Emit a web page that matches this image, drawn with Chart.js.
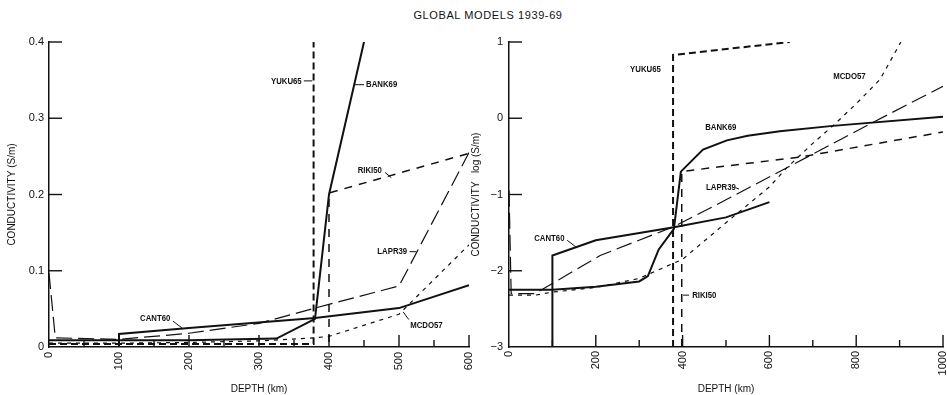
<!DOCTYPE html>
<html lang="en">
<head>
<meta charset="UTF-8">
<title>Global Models 1939-69</title>
<style>
    body {
        margin: 0;
        background: #fff;
        width: 947px;
        height: 395px;
        overflow: hidden;
        position: relative;
        font-family: "Liberation Sans", Arial, sans-serif;
    }
    #title {
        position: absolute;
        left: 388px;
        width: 200px;
        top: 9px;
        text-align: center;
        font-size: 11px;
        letter-spacing: 0.6px;
        color: #111;
    }
    canvas { position: absolute; top: 0; }
    #linChart { left: 0; }
    #logChart { left: 470px; }
</style>
<script src="https://cdn.jsdelivr.net/npm/chart.js"></script>
</head>
<body>
<div id="title">GLOBAL MODELS 1939-69</div>
<canvas id="linChart" width="482" height="395"></canvas>
<canvas id="logChart" width="477" height="395"></canvas>

<script>
// ---- left panel: conductivity (S/m) against depth (km) ----
const cant60LinD = [0, 100, 100, 200, 380, 500, 600];
const cant60LinC = [0, 0, 0.017, 0.025, 0.038, 0.051, 0.081];
const bank69LinD = [0, 200, 325, 380, 400, 450];
const bank69LinC = [0.009, 0.009, 0.011, 0.037, 0.2, 0.4];
const yuku65LinD = [0, 378, 378];
const yuku65LinC = [0.004, 0.004, 0.4];
const riki50LinD = [0, 400, 400, 600];
const riki50LinC = [0, 0, 0.202, 0.254];
const lapr39LinD = [0, 9, 100, 200, 300, 400, 500, 600];
const lapr39LinC = [0.097, 0.012, 0.01, 0.018, 0.031, 0.056, 0.08, 0.255];
const mcdo57LinD = [0, 100, 200, 300, 380, 400, 500, 600];
const mcdo57LinC = [0.005, 0.005, 0.006, 0.008, 0.012, 0.014, 0.043, 0.134];

// ---- right panel: log10 conductivity against depth (km) ----
const cant60LogD = [0, 100, 100, 200, 380, 500, 600];
const cant60LogV = [-3, -3, -1.8, -1.6, -1.43, -1.3, -1.1];
const bank69LogD = [0, 100, 200, 300, 320, 345, 380, 396, 447, 502, 550, 624, 746, 1000];
const bank69LogV = [-2.25, -2.25, -2.21, -2.14, -2.07, -1.72, -1.45, -0.7, -0.41, -0.29, -0.23, -0.17, -0.1, 0.02];
const yuku65LogD = [378, 378, 647];
const yuku65LogV = [-3, 0.83, 1.0];
const riki50LogD = [398, 398, 480, 670, 840, 1000];
const riki50LogV = [-3, -0.7, -0.64, -0.51, -0.34, -0.18];
const lapr39LogD = [0, 5, 60, 90, 210, 380, 500, 690, 830, 1000];
const lapr39LogV = [-0.95, -2.3, -2.3, -2.2, -1.8, -1.42, -1.07, -0.5, -0.08, 0.42];
const mcdo57LogD = [0, 60, 100, 200, 300, 400, 500, 600, 640, 700, 750, 800, 855, 903];
const mcdo57LogV = [-2.32, -2.32, -2.28, -2.22, -2.1, -1.85, -1.37, -0.9, -0.65, -0.33, -0.08, 0.19, 0.51, 1.0];

// axis ticks
const linYTicks = [0.1, 0.2, 0.3, 0.4];
const linXMinor = [50, 150, 250, 350, 450, 550];
const logYTicks = [-2, -1, 0, 1];
const logXMinor = [100, 300, 500, 700, 900];

// curve labels, in data units
const linNotes = [
    { text: 'YUKU65', at: [361, 0.349], align: 'right', lead: [[364, 0.349], [376, 0.349]] },
    { text: 'BANK69', at: [453, 0.344], lead: [[437, 0.344], [450, 0.344]] },
    { text: 'RIKI50', at: [441, 0.231], lead: [[480, 0.229], [489, 0.222]] },
    { text: 'LAPR39', at: [469, 0.125], lead: [[515, 0.125], [525, 0.125]] },
    { text: 'CANT60', at: [130, 0.038], lead: [[177, 0.034], [190, 0.025]] },
    { text: 'MCDO57', at: [516, 0.029], lead: [[514, 0.036], [506, 0.046]] }
];
const logNotes = [
    { text: 'YUKU65', at: [279, 0.64] },
    { text: 'MCDO57', at: [747, 0.55] },
    { text: 'BANK69', at: [452, -0.12] },
    { text: 'LAPR39', at: [454, -0.91], lead: [[522, -0.91], [530, -0.93]] },
    { text: 'CANT60', at: [58, -1.57], lead: [[134, -1.6], [157, -1.7]] },
    { text: 'RIKI50', at: [422, -2.32], lead: [[401, -2.32], [415, -2.32]] }
];

const INK = '#111';

function pts(xs, ys) {
    return xs.map((x, i) => ({ x: x, y: ys[i] }));
}

function series(label, xs, ys, width, dash) {
    return {
        label: label,
        data: pts(xs, ys),
        showLine: true,
        borderColor: INK,
        borderWidth: width,
        borderDash: dash,
        pointRadius: 0,
        tension: 0
    };
}

// inward tick marks and curve labels
const inkPlugin = {
    id: 'ink',
    afterDatasetsDraw(chart, args, opts) {
        const { ctx, chartArea } = chart;
        const sx = chart.scales.x, sy = chart.scales.y;
        const seg = (x1, y1, x2, y2) => {
            ctx.beginPath();
            ctx.moveTo(x1, y1);
            ctx.lineTo(x2, y2);
            ctx.stroke();
        };
        ctx.save();
        ctx.strokeStyle = INK;
        ctx.lineWidth = 1.4;
        opts.yTicks.forEach(v => {
            const py = sy.getPixelForValue(v);
            seg(chartArea.left, py, chartArea.left + 13, py);
        });
        opts.xMajor.forEach(v => {
            const px = sx.getPixelForValue(v);
            seg(px, chartArea.bottom, px, chartArea.bottom - 12);
        });
        opts.xMinor.forEach(v => {
            const px = sx.getPixelForValue(v);
            seg(px, chartArea.bottom, px, chartArea.bottom - 7);
        });

        // the curve names are set in a narrow bold face
        ctx.font = 'bold 9.5px "Liberation Sans", Arial, sans-serif';
        ctx.fillStyle = INK;
        ctx.textBaseline = 'middle';
        ctx.lineWidth = 1;
        opts.notes.forEach(n => {
            ctx.save();
            ctx.translate(sx.getPixelForValue(n.at[0]), sy.getPixelForValue(n.at[1]));
            ctx.scale(0.82, 1);
            ctx.textAlign = n.align || 'left';
            ctx.fillText(n.text, 0, 0);
            ctx.restore();
            if (n.lead) {
                seg(sx.getPixelForValue(n.lead[0][0]), sy.getPixelForValue(n.lead[0][1]),
                    sx.getPixelForValue(n.lead[1][0]), sy.getPixelForValue(n.lead[1][1]));
            }
        });
        ctx.restore();
    }
};

function makeChart(id, cfg) {
    return new Chart(document.getElementById(id), {
        type: 'scatter',
        data: { datasets: cfg.datasets },
        plugins: [inkPlugin],
        options: {
            responsive: false,
            animation: false,
            devicePixelRatio: 1,
            layout: { padding: { left: 0, right: cfg.padRight, top: 42, bottom: 0 } },
            plugins: {
                legend: { display: false },
                tooltip: { enabled: false },
                ink: { yTicks: cfg.yTicks, xMajor: cfg.xMajor, xMinor: cfg.xMinor, notes: cfg.notes }
            },
            scales: {
                x: {
                    type: 'linear',
                    min: 0,
                    max: cfg.xMax,
                    afterFit: s => {
                        s.height = 48;
                        s.paddingLeft = 0;
                        s.paddingRight = 0;
                    },
                    grid: { display: false, drawTicks: false },
                    border: { display: true, color: INK, width: 1.5 },
                    ticks: {
                        stepSize: cfg.xStep,
                        autoSkip: false,
                        maxRotation: 90,
                        minRotation: 90,
                        padding: cfg.xPad,
                        color: INK,
                        font: { family: '"Liberation Sans", Arial, sans-serif', size: 11 },
                        callback: v => String(v)
                    },
                    title: {
                        display: true,
                        text: 'DEPTH (km)',
                        color: INK,
                        padding: { top: 0, bottom: 0 },
                        font: { family: '"Liberation Sans", Arial, sans-serif', size: 10 }
                    }
                },
                y: {
                    type: 'linear',
                    min: cfg.yMin,
                    max: cfg.yMax,
                    afterFit: s => { s.width = cfg.yWidth; },
                    grid: { display: false, drawTicks: false },
                    border: { display: true, color: INK, width: 1.5 },
                    ticks: {
                        stepSize: cfg.yStep,
                        padding: cfg.yPad,
                        color: INK,
                        font: { family: '"Liberation Sans", Arial, sans-serif', size: 11 },
                        callback: cfg.yFormat
                    },
                    title: {
                        display: true,
                        text: cfg.yTitle,
                        color: INK,
                        padding: { top: cfg.titlePad, bottom: 0 },
                        font: { family: '"Liberation Sans", Arial, sans-serif', size: 10 }
                    }
                }
            }
        }
    });
}

makeChart('linChart', {
    datasets: [
        series('CANT60', cant60LinD, cant60LinC, 2, []),
        series('BANK69', bank69LinD, bank69LinC, 2, []),
        series('YUKU65', yuku65LinD, yuku65LinC, 2, [7, 4]),
        series('RIKI50', riki50LinD, riki50LinC, 1.5, [8, 7]),
        series('LAPR39', lapr39LinD, lapr39LinC, 1.2, [16, 6]),
        series('MCDO57', mcdo57LinD, mcdo57LinC, 1.2, [4, 5])
    ],
    padRight: 13,
    xMax: 600, xStep: 100, xPad: 5,
    yMin: 0, yMax: 0.4, yStep: 0.1, yPad: 5, yWidth: 49, titlePad: 6,
    yTitle: 'CONDUCTIVITY (S/m)',
    yFormat: v => String(Math.round(v * 10) / 10),
    yTicks: linYTicks,
    xMajor: [100, 200, 300, 400, 500, 600],
    xMinor: linXMinor,
    notes: linNotes
});

makeChart('logChart', {
    datasets: [
        series('CANT60', cant60LogD, cant60LogV, 2, []),
        series('BANK69', bank69LogD, bank69LogV, 2, []),
        series('YUKU65', yuku65LogD, yuku65LogV, 2, [7, 4]),
        series('RIKI50', riki50LogD, riki50LogV, 1.5, [8, 7]),
        series('LAPR39', lapr39LogD, lapr39LogV, 1.2, [16, 6]),
        series('MCDO57', mcdo57LogD, mcdo57LogV, 1.2, [4, 5])
    ],
    padRight: 4,
    xMax: 1000, xStep: 200, xPad: 4,
    yMin: -3, yMax: 1, yStep: 1, yPad: 6, yWidth: 39, titlePad: 0,
    yTitle: 'CONDUCTIVITY   log (S/m)',
    yFormat: v => (v < 0 ? '\u2212' + Math.abs(v) : String(v)),
    yTicks: logYTicks,
    xMajor: [200, 400, 600, 800, 1000],
    xMinor: logXMinor,
    notes: logNotes
});
</script>
</body>
</html>
